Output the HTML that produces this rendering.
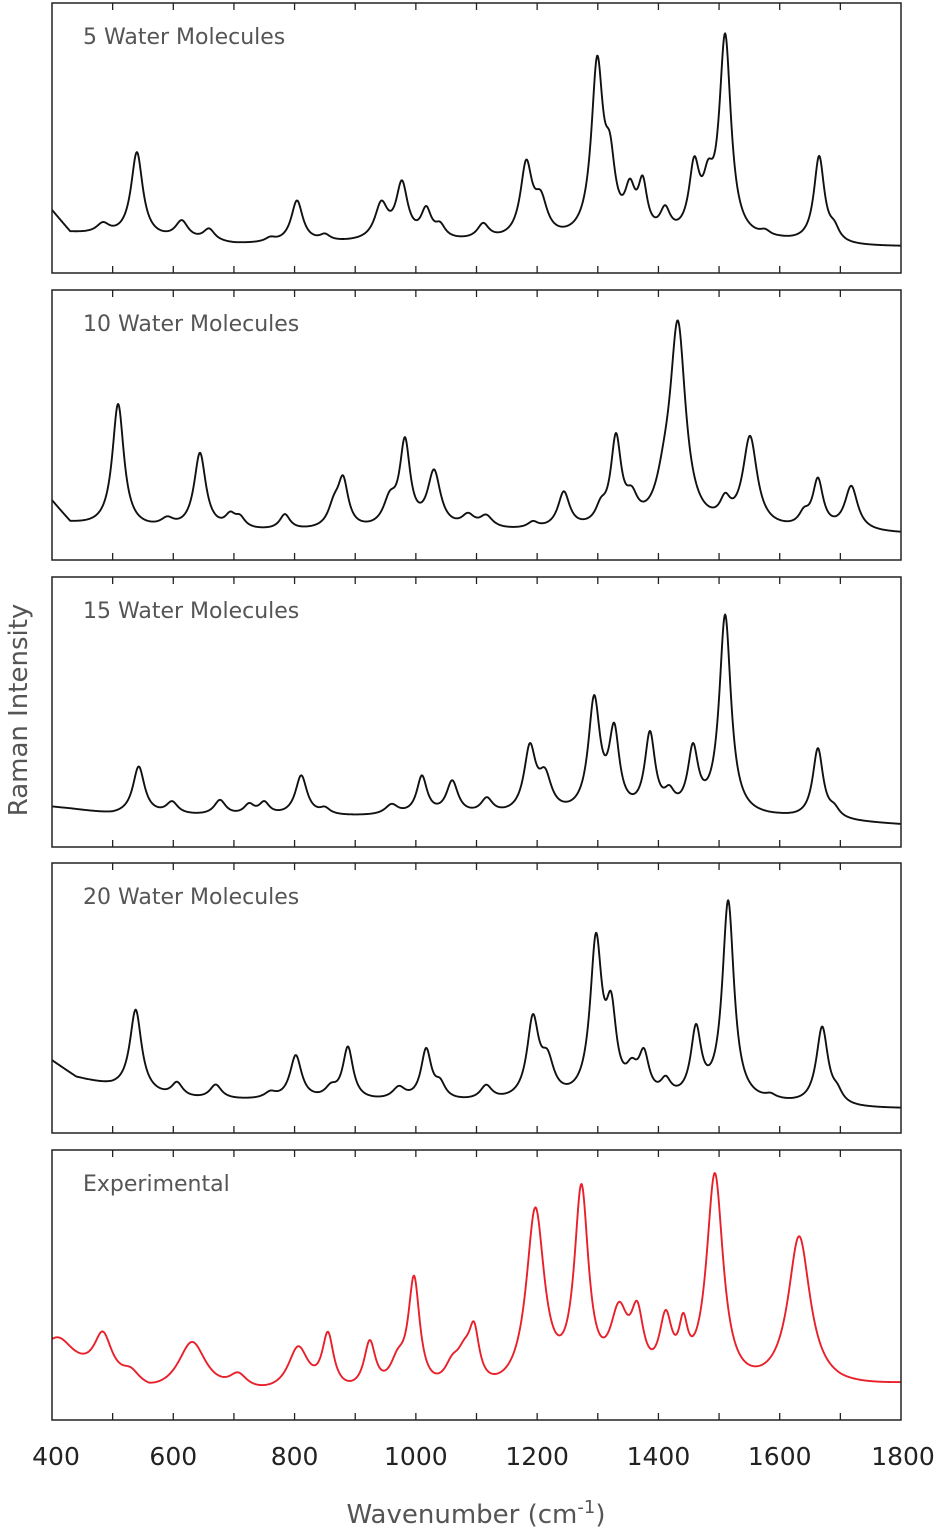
<!DOCTYPE html>
<html><head><meta charset="utf-8">
<style>
html,body{margin:0;padding:0;background:#fff;}
svg{display:block;font-family:"DejaVu Sans","Liberation Sans",sans-serif;}
</style></head>
<body>
<svg id="chart" width="945" height="1532" viewBox="0 0 945 1532" xmlns="http://www.w3.org/2000/svg"></svg>
<script>
// ---- data ----
const xTicks = [400,600,800,1000,1200,1400,1600,1800];
const panelLabels = ["5 Water Molecules","10 Water Molecules","15 Water Molecules","20 Water Molecules","Experimental"];
// peaks: [center cm-1, amplitude, half-width]
const peaks5 = [[484,10,10],[540,85,9],[614,18,10],[659,12,9],[760,4,8],[804,42,9],[850,6,8],[943,35,10],[977,55,9],[1017,28,8],[1040,12,8],[1111,15,9],[1182,72,9],[1206,34,10],[1299,170,9],[1320,62,8],[1353,40,8],[1374,48,7],[1411,24,8],[1459,66,8],[1482,40,8],[1510,200,9],[1576,5,8],[1665,86,8],[1690,12,8]];
const peaks10 = [[509,125,9],[590,8,10],[644,76,9],[694,12,8],[710,10,8],[784,15,8],[865,20,9],[880,46,8],[957,25,10],[982,84,8],[1030,56,10],[1086,12,10],[1116,12,10],[1193,6,8],[1244,36,9],[1305,15,8],[1330,86,8],[1356,22,9],[1409,25,12],[1432,200,12],[1510,20,8],[1551,90,11],[1640,12,8],[1663,48,8],[1718,44,10]];
const peaks15 = [[543,48,9],[598,12,9],[677,15,9],[725,10,8],[750,12,8],[811,40,9],[850,6,8],[960,10,10],[1010,38,8],[1060,33,9],[1117,15,9],[1188,64,9],[1213,34,10],[1294,112,9],[1327,78,8],[1386,78,8],[1418,16,8],[1457,62,8],[1510,200,9],[1663,70,8],[1690,8,8]];
const peaks20 = [[538,82,9],[606,15,9],[670,14,9],[760,6,9],[802,44,9],[860,10,9],[888,52,8],[972,12,10],[1017,50,8],[1040,14,8],[1116,14,9],[1193,78,9],[1217,34,10],[1297,155,9],[1322,78,8],[1356,22,9],[1376,40,8],[1412,16,8],[1462,68,8],[1515,200,9],[1585,4,8],[1670,78,9],[1695,10,8]];
const peaksExp = [[410,30,25],[484,42,14],[530,12,14],[631,52,22],[707,15,14],[806,45,16],[855,55,9],[924,48,9],[970,25,12],[997,110,9],[1060,20,12],[1080,28,12],[1096,50,8],[1197,180,14],[1273,195,11],[1335,68,14],[1365,62,10],[1412,62,10],[1441,46,7],[1493,215,13],[1632,150,17]];
// baselines: [wavenumber, value]
const base5 = [[400,62],[430,40],[500,36],[700,28],[1000,30],[1600,30],[1700,26],[1800,26]];
const base10 = [[400,58],[430,36],[500,30],[700,28],[1000,28],[1600,28],[1800,26]];
const base15 = [[400,40],[430,38],[500,32],[700,30],[1000,30],[1600,28],[1800,22]];
const base20 = [[400,72],[440,55],[500,45],[600,33],[1000,30],[1600,28],[1700,24],[1800,24]];
const baseExp = [[400,50],[480,38],[560,22],[700,22],[1000,20],[1500,22],[1650,30],[1700,30],[1800,34]];

const panels = [
  {top:3, peaks:peaks5, base:base5, color:"#111"},
  {top:290, peaks:peaks10, base:base10, color:"#111"},
  {top:577, peaks:peaks15, base:base15, color:"#111"},
  {top:863, peaks:peaks20, base:base20, color:"#111"},
  {top:1150, peaks:peaksExp, base:baseExp, color:"#e8202a"}
];
const PH = 270, X0 = 52, X1 = 901, WIDEN = 1.3;
const xs = w => X0 + (w-400)*(X1-X0)/1400;
const NS = "http://www.w3.org/2000/svg";
const svg = document.getElementById("chart");
function mk(tag, attrs, parent){ const e=document.createElementNS(NS,tag); for(const k in attrs) e.setAttribute(k,attrs[k]); (parent||svg).appendChild(e); return e; }
function baseAt(b,w){ for(let i=0;i<b.length-1;i++){ if(w>=b[i][0]&&w<=b[i+1][0]){ const t=(w-b[i][0])/(b[i+1][0]-b[i][0]); return b[i][1]+t*(b[i+1][1]-b[i][1]); } } return b[b.length-1][1]; }

panels.forEach((p,i)=>{
  const g = mk("g",{});
  
  
  const bottom = p.top+PH;
  let d="";
  for(let w=400; w<=1800; w+=1){
    let v = baseAt(p.base,w);
    p.peaks.forEach(pk=>{ const u=(w-pk[0])/(pk[2]*WIDEN); v += pk[1]/(1+u*u); });
    d += (w===400?"M":"L")+xs(w).toFixed(2)+","+(bottom-v).toFixed(2);
  }
  const line = mk("path",{d:d,fill:"none",stroke:p.color,"stroke-width":1.9,"stroke-linejoin":"round"},g);
  
  
  const frame = mk("rect",{x:X0,y:p.top,width:X1-X0,height:PH,fill:"none",stroke:"#222","stroke-width":1.5},g);
  
  
  for(let w=500; w<1800; w+=100){
    const x=xs(w);
    mk("line",{x1:x,y1:p.top,x2:x,y2:p.top+7,stroke:"#222","stroke-width":1.3},g);
    mk("line",{x1:x,y1:bottom,x2:x,y2:bottom-7,stroke:"#222","stroke-width":1.3},g);
  }
  const lab = mk("text",{x:83,y:p.top+41,"font-size":22,fill:"#555"},g);
  lab.textContent = panelLabels[i];
  
  
});
xTicks.forEach(w=>{
  let x = xs(w);
  if(w===400) x = 56;
  if(w===1800) x = 903;
  const t = mk("text",{x:x,y:1465,"font-size":25,fill:"#222","text-anchor":"middle"});
  t.textContent = w;
  
  
});
const xt = mk("text",{x:476,y:1523,"font-size":26,fill:"#555","text-anchor":"middle"});
xt.innerHTML = 'Wavenumber (cm<tspan dy="-10" font-size="18">-1</tspan><tspan dy="10">)</tspan>';


const yt = mk("text",{x:0,y:0,"font-size":26,fill:"#555","text-anchor":"middle",transform:"translate(27,710) rotate(-90)"});
yt.textContent = "Raman Intensity";


</script>
</body></html>
